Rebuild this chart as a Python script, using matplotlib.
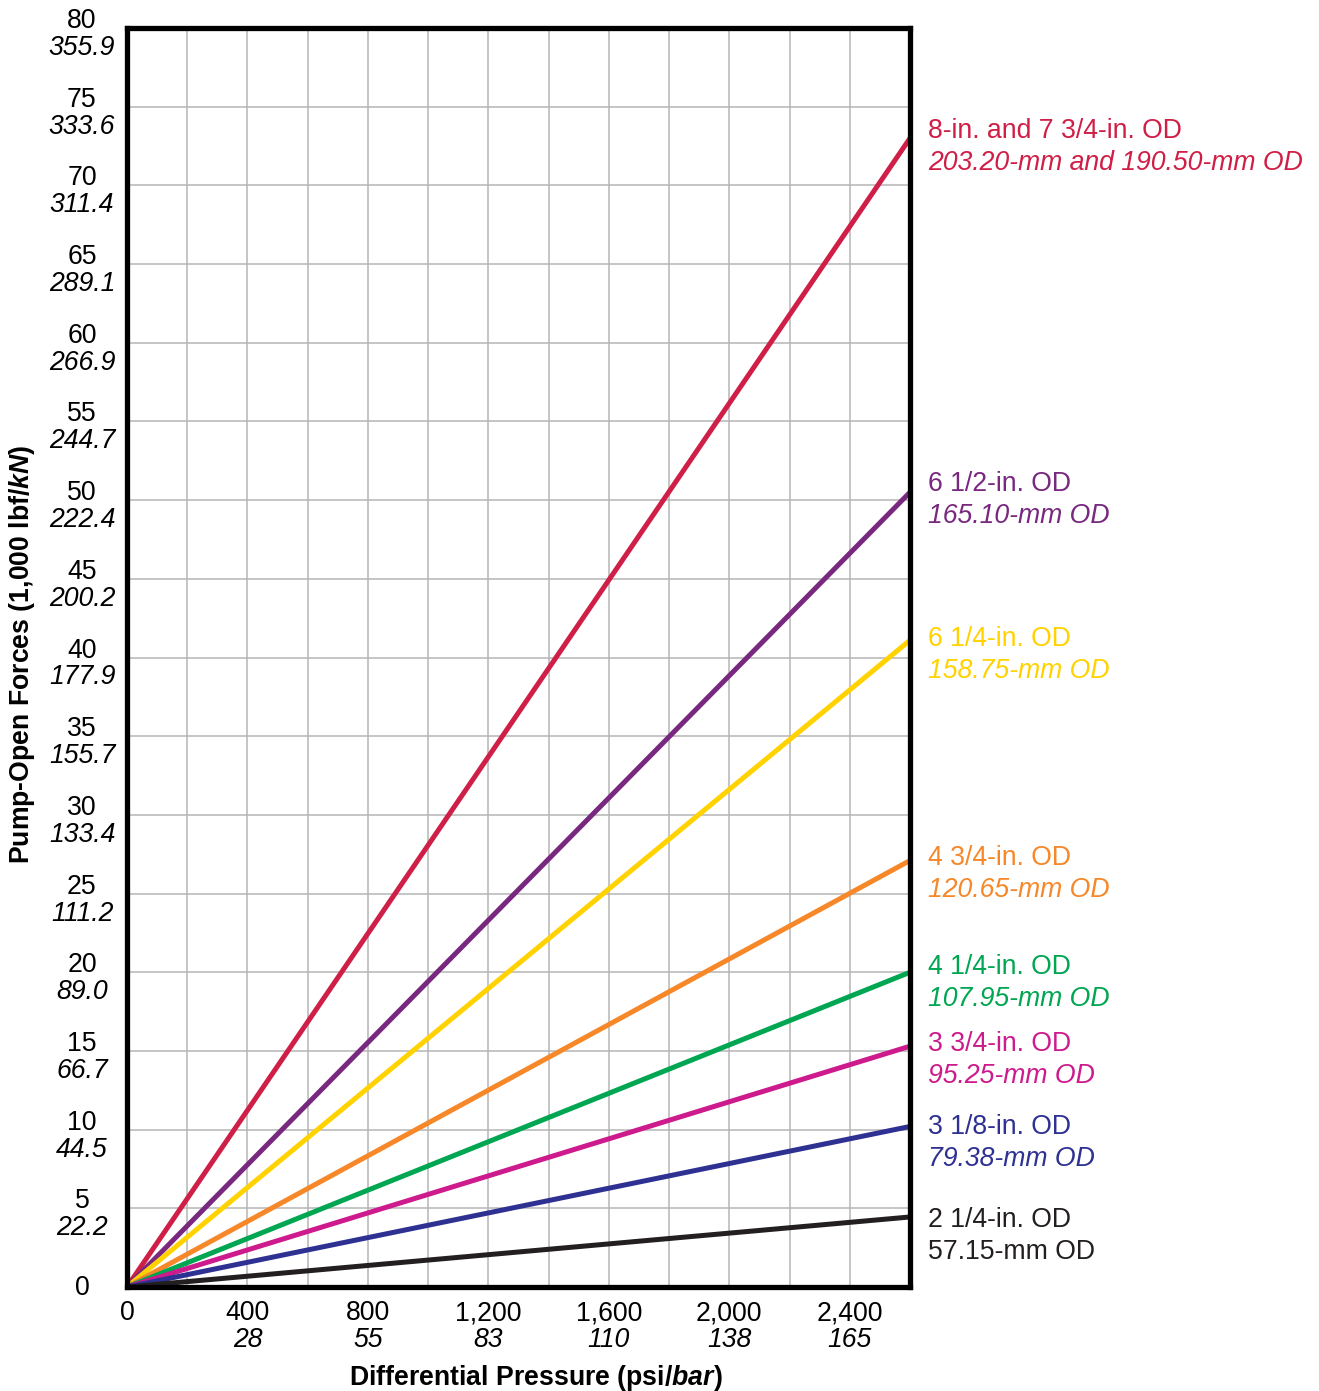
import matplotlib
matplotlib.use("Agg")
import matplotlib.pyplot as plt

plt.rcParams['font.family'] = ['Liberation Sans', 'DejaVu Sans']
plt.rcParams['mathtext.fontset'] = 'custom'
plt.rcParams['mathtext.rm'] = 'Liberation Sans'
plt.rcParams['mathtext.it'] = 'Liberation Sans:italic'
plt.rcParams['mathtext.bf'] = 'Liberation Sans:bold'
plt.rcParams['mathtext.bfit'] = 'Liberation Sans:bold:italic'

# data
pressure_psi = [0, 2600]
sizes_in = ["8-in. and 7 3/4-in. OD", "6 1/2-in. OD", "6 1/4-in. OD", "4 3/4-in. OD",
            "4 1/4-in. OD", "3 3/4-in. OD", "3 1/8-in. OD", "2 1/4-in. OD"]
sizes_mm = ["203.20-mm and 190.50-mm OD", "165.10-mm OD", "158.75-mm OD", "120.65-mm OD",
            "107.95-mm OD", "95.25-mm OD", "79.38-mm OD", "57.15-mm OD"]
force_at_max = [73.0, 50.5, 41.1, 27.1, 20.0, 15.3, 10.2, 4.45]  # 1,000 lbf at 2,600 psi
colors = ["#d01f47", "#78297f", "#ffd200", "#f6882a", "#00a651", "#cd1b8d", "#2e3192", "#231f20"]
label_shift = [7, 8, 1, 3, 5, 2, -1, -3]  # px, nudges label above line end

y_ticks = list(range(0, 85, 5))
y_kn = ["", "22.2", "44.5", "66.7", "89.0", "111.2", "133.4", "155.7", "177.9", "200.2",
        "222.4", "244.7", "266.9", "289.1", "311.4", "333.6", "355.9"]
x_ticks = [0, 400, 800, 1200, 1600, 2000, 2400]
x_psi = ["0", "400", "800", "1,200", "1,600", "2,000", "2,400"]
x_bar = ["", "28", "55", "83", "110", "138", "165"]

fs = 19.2
px = 0.72  # pixels -> points at dpi 100

fig = plt.figure(figsize=(13.19, 13.91), dpi=100)
ax = fig.add_axes([127 / 1319, 1 - 1287 / 1391, 783 / 1319, 1259 / 1391])

for f, c in zip(force_at_max, colors):
    ax.plot(pressure_psi, [0, f], color=c, lw=3.6, solid_capstyle='butt', zorder=3)

ax.set_xlim(0, 2600)
ax.set_ylim(0, 80)
ax.set_xticks(range(0, 2601, 200))
ax.set_yticks(y_ticks)
ax.set_xticklabels([])
ax.set_yticklabels([])
ax.tick_params(length=0)
ax.grid(True, color="#b5b5b5", lw=1.1, zorder=1)
for s in ax.spines.values():
    s.set_linewidth(3.8)
    s.set_zorder(5)

# y tick labels (lbf over kN)
for v, kn in zip(y_ticks, y_kn):
    if kn:
        ax.annotate(str(v), xy=(0, v), xycoords=('axes fraction', 'data'),
                    xytext=(-45 * px, 7 * px), textcoords='offset points',
                    ha='center', va='center', fontsize=fs)
        ax.annotate(kn, xy=(0, v), xycoords=('axes fraction', 'data'),
                    xytext=(-45 * px, -20 * px), textcoords='offset points',
                    ha='center', va='center', fontsize=fs, style='italic')
    else:
        ax.annotate(str(v), xy=(0, v), xycoords=('axes fraction', 'data'),
                    xytext=(-45 * px, -1 * px), textcoords='offset points',
                    ha='center', va='center', fontsize=fs)

# x tick labels (psi over bar)
for v, p, b in zip(x_ticks, x_psi, x_bar):
    ax.annotate(p, xy=(v, 0), xycoords=('data', 'axes fraction'),
                xytext=(0, -26 * px), textcoords='offset points',
                ha='center', va='center', fontsize=fs)
    if b:
        ax.annotate(b, xy=(v, 0), xycoords=('data', 'axes fraction'),
                    xytext=(0, -53 * px), textcoords='offset points',
                    ha='center', va='center', fontsize=fs, style='italic')

# series labels at right
for f, c, a, b, sh in zip(force_at_max, colors, sizes_in, sizes_mm, label_shift):
    ax.annotate(a, xy=(1, f), xycoords=('axes fraction', 'data'),
                xytext=(18 * px, sh * px), textcoords='offset points',
                ha='left', va='center', fontsize=fs, color=c)
    ax.annotate(b, xy=(1, f), xycoords=('axes fraction', 'data'),
                xytext=(18 * px, (sh - 32) * px), textcoords='offset points',
                ha='left', va='center', fontsize=fs, color=c,
                style='normal' if c == "#231f20" else 'italic')

fig.text(536 / 1319, 1 - 1378 / 1391, r"Differential Pressure (psi/$\mathbfit{bar}$)",
         ha='center', va='center', fontsize=fs, fontweight='bold')
fig.text(22 / 1319, 1 - 654 / 1391, r"Pump-Open Forces (1,000 lbf/$\mathbfit{kN}$)",
         ha='center', va='center', fontsize=fs, fontweight='bold', rotation=90)

fig.savefig("out.png", dpi=100)
